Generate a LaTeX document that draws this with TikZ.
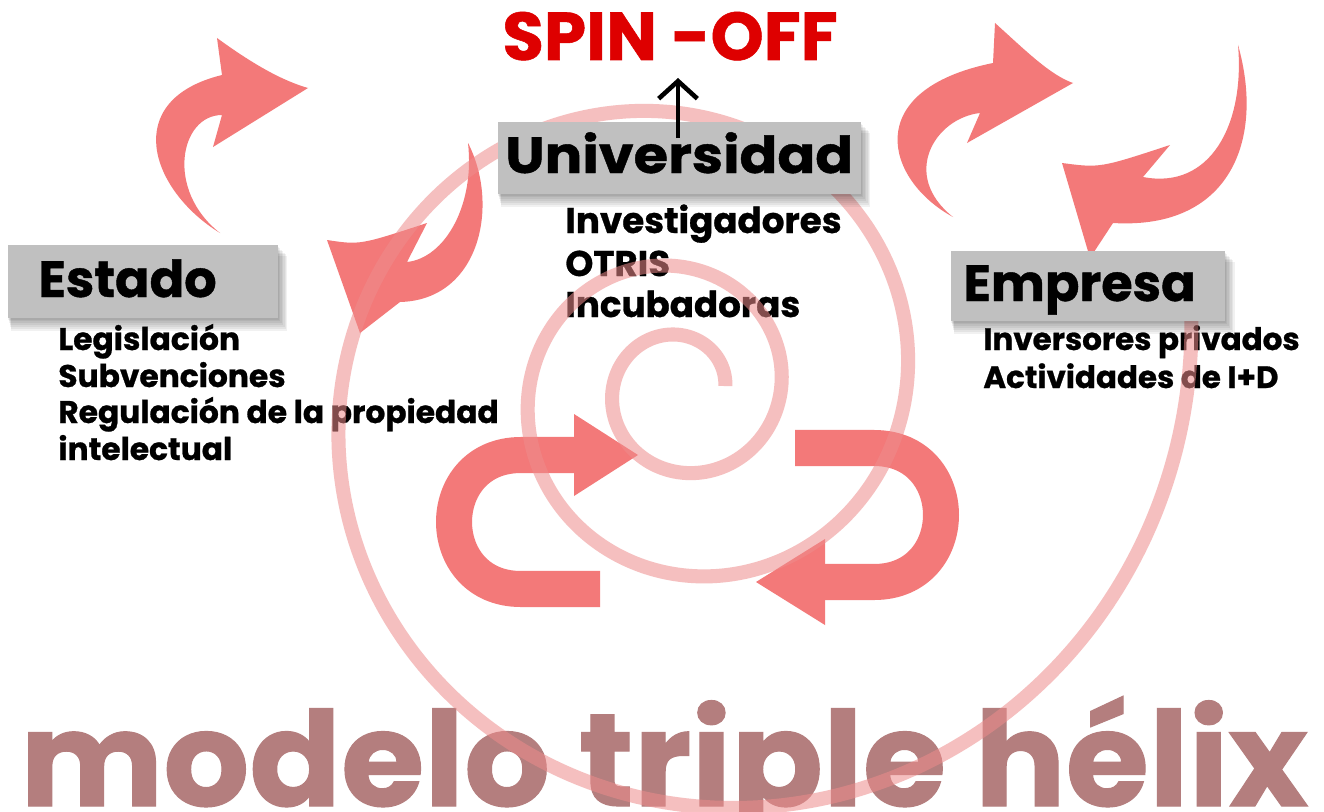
\documentclass[tikz,border=0pt]{standalone}
\usepackage{fontspec}
\setmainfont{Poppins}[BoldFeatures={FakeBold=0.8}]
\usetikzlibrary{arrows.meta}
\definecolor{arrowc}{RGB}{243,121,121}
\definecolor{spiralc}{RGB}{238,140,140}
\definecolor{boxc}{RGB}{192,192,192}
\definecolor{spinc}{RGB}{222,0,0}
\definecolor{modc}{RGB}{180,126,126}
\begin{document}
\begin{tikzpicture}[x=0.02cm,y=-0.02cm,
  curvarrow/.style={fill=arrowc,draw=none},
  uarrow/.style={draw=arrowc,line width=20.5pt},
  uhead/.style={fill=arrowc,draw=none},
  spiral/.style={draw=spiralc,line width=8pt,opacity=0.55},
  graybox/.style={draw=none,inner sep=0pt,anchor=north west},
  boxfill/.style={fill=boxc},
  shadowlayer/.style={fill=black,opacity=0.055},
  title/.style={anchor=base west,inner sep=0pt,font=\fontsize{29}{32}\selectfont\bfseries},
  spintext/.style={anchor=base west,inner sep=0pt,font=\fontsize{38.5}{42}\selectfont\bfseries},
  uitem/.style={anchor=base west,inner sep=0pt,font=\fontsize{20.3}{22}\selectfont\bfseries},
  eitem/.style={anchor=base west,inner sep=0pt,font=\fontsize{17.8}{20}\selectfont\bfseries},
  pitem/.style={anchor=base west,inner sep=0pt,font=\fontsize{17.6}{20}\selectfont\bfseries},
  modtext/.style={anchor=base west,inner sep=0pt,text=modc,font=\fontsize{75}{80}\selectfont\bfseries}
]
\fill[white] (0,0) rectangle (1324,811);
\useasboundingbox (0,0) rectangle (1324,811);

% bottom title
\node[modtext] (modelo) at (20,806) {\scalebox{1.025}[1]{modelo triple hélix}};

% item texts
\node[eitem] (e1) at (58,350) {Legislación};
\node[eitem] (e2) at (58,387) {Subvenciones};
\node[eitem] (e3) at (58,423) {Regulación de la propiedad};
\node[eitem] (e4) at (58,460) {intelectual};
\node[uitem] (u1) at (565,233) {Investigadores};
\node[uitem] (u2) at (565,276) {OTRIS};
\node[uitem] (u3) at (565,317) {Incubadoras};
\node[pitem] (p1) at (983,350) {Inversores privados};
\node[pitem] (p2) at (983,388) {Actividades de I+D};

% curved arrows
\path[curvarrow] (220,233) .. controls (150,190) and (120,100) .. (222,75) -- (217,38)
  .. controls (250,62) and (280,80) .. (308,88) -- (213,147) -- (222,115)
  .. controls (180,115) and (165,190) .. (220,233) -- cycle;
\path[curvarrow] (468,143) .. controls (500,205) and (480,300) .. (400,302) -- (360,333)
  -- (327,240) .. controls (360,245) .. (427,223) -- (407,262)
  .. controls (445,258) and (475,205) .. (468,143) -- cycle;
\path[curvarrow] (953,217) .. controls (885,180) and (860,90) .. (993,63) -- (995,23)
  .. controls (1025,50) and (1050,75) .. (1073,83) -- (967,143) -- (980,113)
  .. controls (935,118) and (900,175) .. (953,217) -- cycle;
\path[curvarrow] (1238,45) .. controls (1265,140) and (1230,230) .. (1113,223) -- (1090,258)
  -- (1062,163) .. controls (1100,168) .. (1170,145) -- (1143,177)
  .. controls (1210,190) and (1245,125) .. (1238,45) -- cycle;

% U arrows
\draw[uarrow] (600,589) -- (521,589) .. controls (431.7,589) and (431.7,455) .. (521,455) -- (575,455);
\path[uhead] (574,414) -- (638,455) -- (574,496) -- cycle;
\draw[uarrow] (795,448) -- (874,448) .. controls (963.3,448) and (963.3,582) .. (874,582) -- (824,582);
\path[uhead] (825,539) -- (756,582) -- (825,625) -- cycle;

% spiral
\draw[spiral] plot[domain=5:1088,samples=500,smooth]
  ({680+45*exp(0.002241*\x)*cos(\x)},{390-45*exp(0.002241*\x)*sin(\x)});

% boxes (placed, then soft shadow, then fill)
\node[graybox,minimum width=5.38cm,minimum height=1.44cm] (estadobox) at (8,245) {};
\node[graybox,minimum width=7.24cm,minimum height=1.42cm] (univbox) at (498,122) {};
\node[graybox,minimum width=5.46cm,minimum height=1.38cm] (empresabox) at (951,251) {};
\foreach \b in {estadobox,univbox,empresabox}{
  \foreach \d in {1,...,7}{
    \fill[shadowlayer] ([shift={(\d*0.25pt,-\d*0.9pt)}]\b.north west)
      rectangle ([shift={(\d*0.8pt,-\d*1.05pt)}]\b.south east);
  }
  \fill[boxfill] (\b.north west) rectangle (\b.south east);
}

\node[title] (estado) at (38,297) {Estado};
\node[title] (univ) at (505,173) {\scalebox{1.095}[1]{Universidad}};
\node[title] (empresa) at (963,301) {Empresa};

% spin-off
\node[spintext,text=spinc] (spin) at (502,60) {SPIN -OFF};

\coordinate (arrbot) at (678,138);
\coordinate (arrtop) at (678,78);
\draw[line width=2.6pt,-{Straight Barb[length=10pt,width=22pt,line width=2.6pt]}] (arrbot) -- (arrtop);
\end{tikzpicture}
\end{document}
